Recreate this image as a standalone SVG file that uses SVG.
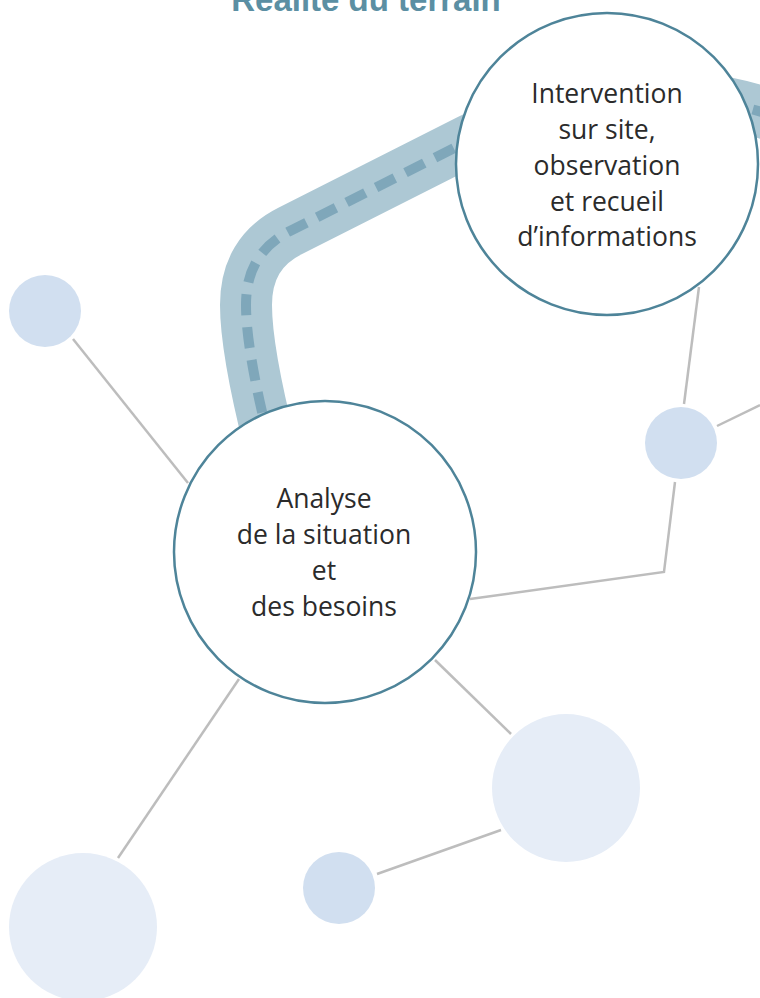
<svg xmlns="http://www.w3.org/2000/svg" width="760" height="998" viewBox="0 0 760 998">
<style>
.link{fill:none;stroke:#bdbdbd;stroke-width:2.5}
.main{fill:#ffffff;stroke:#4e8499;stroke-width:2.5}
.lbl{font-family:"Open Sans","Liberation Sans",sans-serif;font-size:26.5px;fill:#2b2b2b;text-anchor:middle}
.sm{fill:#d1dff0}
.lg{fill:#e6edf7}
</style>
<rect width="760" height="998" fill="#ffffff"/>
<text x="366" y="11" font-family="'Liberation Sans',Arial,sans-serif" font-size="33" font-weight="bold" fill="#5b8fa3" text-anchor="middle">Réalité du terrain</text>
<g id="road">
<path d="M 270 445 Q 246 350 246 305 Q 246 253 290 231 L 470 140 C 560 95 680 78 790 122" fill="none" stroke="#adc8d4" stroke-width="52"/>
<path d="M 270 445 Q 246 350 246 305 Q 246 253 290 231 L 470 140 C 560 95 680 78 790 122" fill="none" stroke="#7fa7ba" stroke-width="10" stroke-dasharray="21 12"/>
</g>
<g id="connectors">
<line class="link" x1="73" y1="339" x2="188" y2="483"/>
<line class="link" x1="699" y1="287" x2="684" y2="404"/>
<line class="link" x1="717" y1="426" x2="760" y2="405"/>
<polyline class="link" points="675,482 664,572 470,599"/>
<line class="link" x1="435" y1="660" x2="511" y2="734"/>
<line class="link" x1="501" y1="830" x2="377" y2="874"/>
<line class="link" x1="239" y1="679" x2="118" y2="858"/>
</g>
<g id="dot-left"><circle class="sm" cx="45" cy="311" r="36"/></g>
<g id="dot-right"><circle class="sm" cx="681" cy="443" r="36"/></g>
<g id="dot-big-right"><circle class="lg" cx="566" cy="788" r="74"/></g>
<g id="dot-small-bottom"><circle class="sm" cx="339" cy="888" r="36"/></g>
<g id="dot-big-left"><circle class="lg" cx="83" cy="927" r="74"/></g>
<g id="intervention">
<circle class="main" cx="607" cy="164" r="151"/>
<text class="lbl" x="607" y="103">Intervention</text>
<text class="lbl" x="607" y="139">sur site,</text>
<text class="lbl" x="607" y="175">observation</text>
<text class="lbl" x="607" y="211">et recueil</text>
<text class="lbl" x="607" y="246">d’informations</text>
</g>
<g id="analyse">
<circle class="main" cx="325" cy="552" r="151"/>
<text class="lbl" x="324" y="508">Analyse</text>
<text class="lbl" x="324" y="544">de la situation</text>
<text class="lbl" x="324" y="580">et</text>
<text class="lbl" x="324" y="616">des besoins</text>
</g>
</svg>
